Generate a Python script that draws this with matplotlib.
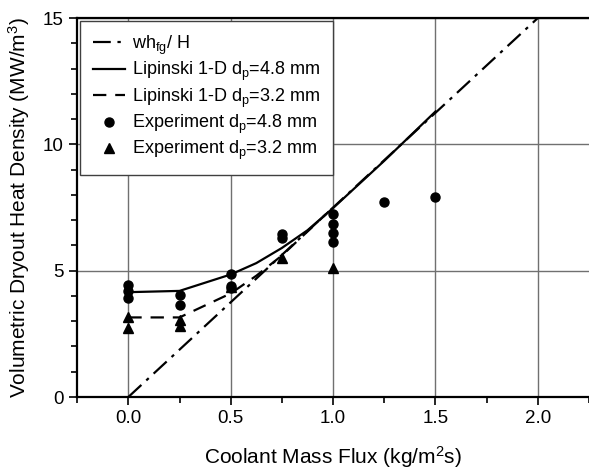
import numpy as np
import matplotlib.pyplot as plt
from matplotlib.ticker import MultipleLocator

plt.rcParams['font.family'] = ['Liberation Sans', 'DejaVu Sans']
plt.rcParams['mathtext.fontset'] = 'custom'
plt.rcParams['mathtext.rm'] = 'Liberation Sans'
plt.rcParams['mathtext.it'] = 'Liberation Sans'

# wh_fg / H line
x_whfg = [0.0, 2.25]
y_whfg = [0.0, 16.875]

# Lipinski 1-D model curves
x_lip48 = [0.0, 0.25, 0.5, 0.625, 0.75, 0.875, 1.0, 1.25, 1.5]
y_lip48 = [4.15, 4.2, 4.85, 5.3, 5.9, 6.6, 7.48, 9.35, 11.3]
x_lip32 = [0.0, 0.25, 0.5, 0.625, 0.75, 0.875, 1.0]
y_lip32 = [3.15, 3.15, 4.1, 4.8, 5.6, 6.55, 7.5]

# experiments
x_exp48 = [0.0, 0.0, 0.0, 0.25, 0.25, 0.5, 0.5, 0.5, 0.75, 0.75,
           1.0, 1.0, 1.0, 1.0, 1.25, 1.5]
y_exp48 = [4.45, 4.2, 3.9, 4.05, 3.65, 4.85, 4.4, 4.3, 6.45, 6.3,
           7.25, 6.85, 6.5, 6.15, 7.7, 7.9]
x_exp32 = [0.0, 0.0, 0.25, 0.25, 0.5, 0.75, 1.0]
y_exp32 = [3.15, 2.75, 3.05, 2.8, 4.35, 5.5, 5.1]

fig = plt.figure(figsize=(5.89, 4.69), dpi=100)
ax = fig.add_axes([0.131, 0.1535, 0.869, 0.808])

ax.plot(x_whfg, y_whfg, color='k', lw=1.6, dashes=(8, 3, 1.5, 3),
        label=r'wh$_{\mathregular{fg}}$/ H')
ax.plot(x_lip48, y_lip48, color='k', lw=1.6, ls='-',
        label=r'Lipinski 1-D d$_\mathregular{p}$=4.8 mm')
ax.plot(x_lip32, y_lip32, color='k', lw=1.6, dashes=(6, 4),
        label=r'Lipinski 1-D d$_\mathregular{p}$=3.2 mm')
ax.plot(x_exp48, y_exp48, 'o', color='k', ms=6.5,
        label=r'Experiment d$_\mathregular{p}$=4.8 mm')
ax.plot(x_exp32, y_exp32, '^', color='k', ms=6.5,
        label=r'Experiment d$_\mathregular{p}$=3.2 mm')

ax.set_xlim(-0.25, 2.25)
ax.set_ylim(0, 15)
ax.xaxis.set_major_locator(MultipleLocator(0.5))
ax.xaxis.set_minor_locator(MultipleLocator(0.25))
ax.yaxis.set_major_locator(MultipleLocator(5))
ax.yaxis.set_minor_locator(MultipleLocator(1))
ax.xaxis.set_major_formatter(plt.FormatStrFormatter('%.1f'))
ax.grid(True, which='major', color='#707070', lw=1.0)
ax.set_axisbelow(True)

for s in ['left', 'bottom', 'top']:
    ax.spines[s].set_linewidth(1.6)
ax.spines['right'].set_visible(False)
ax.tick_params(which='major', direction='out', length=6, width=1.2, labelsize=13.5)
ax.tick_params(which='minor', direction='out', length=4, width=1.2)

ax.set_xlabel(r'Coolant Mass Flux (kg/m$^\mathregular{2}$s)', fontsize=15, labelpad=12)
ax.set_ylabel(r'Volumetric Dryout Heat Density (MW/m$^\mathregular{3}$)', fontsize=15, labelpad=8)

leg = ax.legend(loc='upper left', fontsize=13, frameon=True, fancybox=False,
                borderaxespad=0.15, borderpad=0.7, handlelength=1.8,
                handletextpad=0.4, labelspacing=0.18,
                edgecolor='#404040', framealpha=1)
leg.get_frame().set_linewidth(1.0)

fig.savefig('out.png', dpi=100)
